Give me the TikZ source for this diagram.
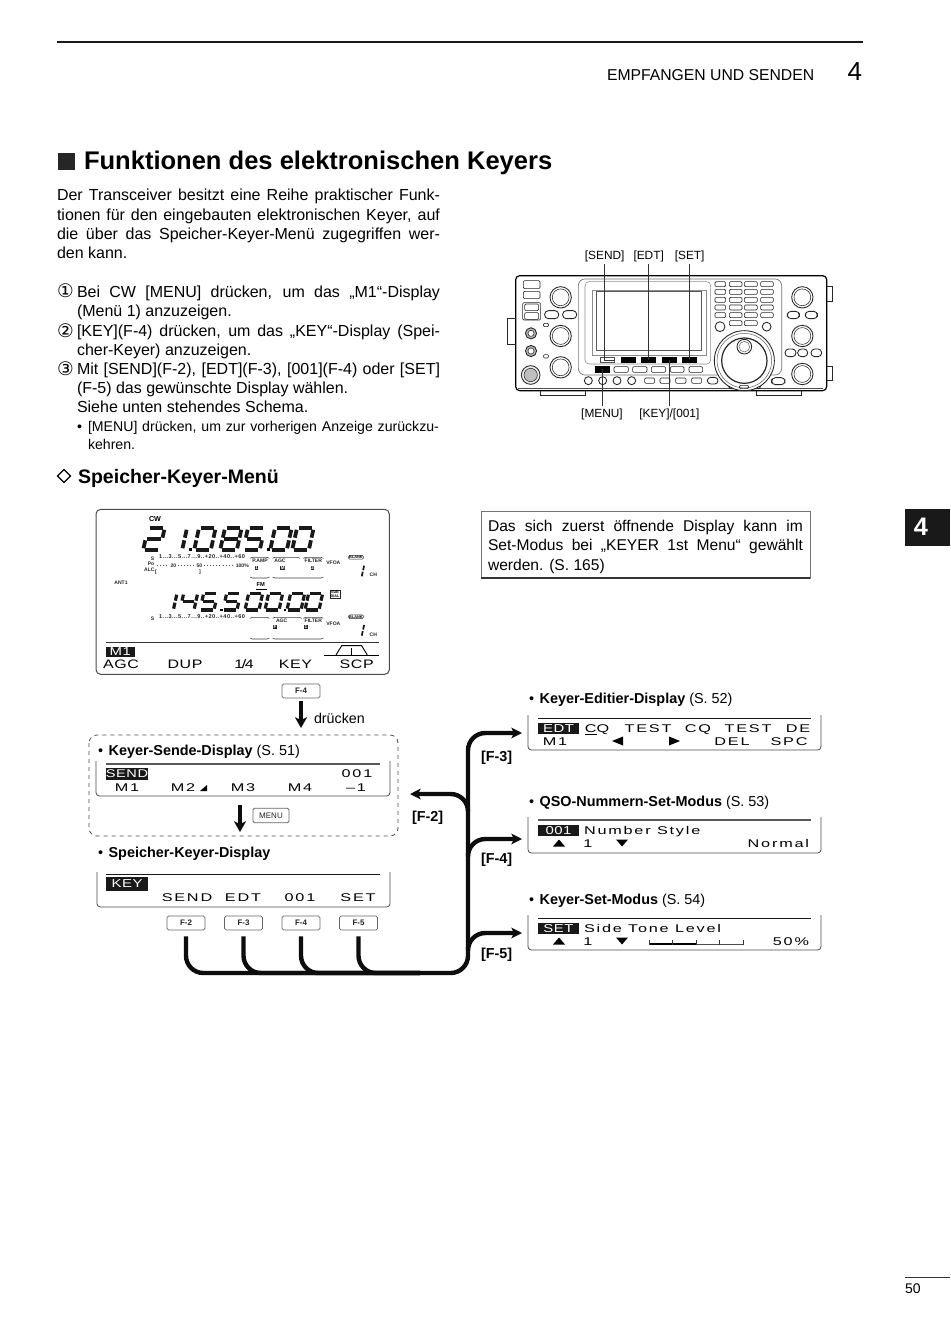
\documentclass[tikz,border=0pt]{standalone}
\usepackage{fontspec}
\setmainfont{Liberation Sans}
\newfontfamily\lcdf[FakeStretch=1.45,LetterSpace=16]{Liberation Sans}
\newfontfamily\lcdinv[FakeStretch=1.3,LetterSpace=5]{Liberation Sans}
\newfontfamily\mf[LetterSpace=8]{Liberation Sans}
\newfontfamily\symf{DejaVu Sans}
\usetikzlibrary{arrows.meta,calc}
\newcount\txc
\newcommand{\tx}[4][]{\global\advance\txc by 1\node[tt,#1] (tx\the\txc) at (#2,#3) {#4};}
\newcommand{\bodyf}{\fontsize{12}{14}\selectfont}
\newcommand{\notef}{\fontsize{11.7}{14}\selectfont}
\newcommand{\hdf}{\fontsize{10.8}{13}\selectfont}
\newcommand{\lf}{\lcdf\fontsize{8.4}{10}\selectfont}
\newcommand{\lfi}{\lcdinv\fontsize{8.6}{10}\selectfont}
\newcommand{\lfm}{\lcdinv\fontsize{9.2}{10}\selectfont}
\newcommand{\mtf}{\mf\bfseries\fontsize{4.2}{5}\selectfont}
\newcommand{\jl}[2][287.25pt]{\makebox[#1][s]{#2}}
\newcommand{\blt}{\textbullet\hspace{4.2pt}}
\newcommand{\rb}[4]{\draw[rbtn] (#1,#2) rectangle (#3,#4);}
\newcommand{\sega}{\draw[seg] (0.1*\dw,0)--(0.9*\dw,0);}
\newcommand{\segb}{\draw[seg] (\dw,0.08*\dh)--(\dw,0.44*\dh);}
\newcommand{\segc}{\draw[seg] (\dw,0.56*\dh)--(\dw,0.92*\dh);}
\newcommand{\segd}{\draw[seg] (0.1*\dw,\dh)--(0.9*\dw,\dh);}
\newcommand{\sege}{\draw[seg] (0,0.56*\dh)--(0,0.92*\dh);}
\newcommand{\segf}{\draw[seg] (0,0.08*\dh)--(0,0.44*\dh);}
\newcommand{\segg}{\draw[seg] (0.1*\dw,0.5*\dh)--(0.9*\dw,0.5*\dh);}
\expandafter\def\csname lcdd0\endcsname{\sega\segb\segc\segd\sege\segf}
\expandafter\def\csname lcdd1\endcsname{\segb\segc}
\expandafter\def\csname lcdd2\endcsname{\sega\segb\segg\sege\segd}
\expandafter\def\csname lcdd4\endcsname{\segf\segg\segb\segc}
\expandafter\def\csname lcdd5\endcsname{\sega\segf\segg\segc\segd}
\expandafter\def\csname lcdd8\endcsname{\sega\segb\segc\segd\sege\segf\segg}
\newcommand{\lcdDigit}[3]{\begin{scope}[shift={(#1,#2)},xslant=0.22]\csname lcdd#3\endcsname\end{scope}}
\tikzset{
 tt/.style={inner sep=0pt,outer sep=0pt,anchor=base west,text depth=0pt},
 ctr/.style={anchor=base,inner sep=0pt},
 rgt/.style={anchor=base east,inner sep=0pt},
 seg/.style={line width=2.8pt,line cap=butt,black!90},
 rbtn/.style={draw=black!85,line width=0.45pt,rounded corners=0.9pt},
 rknob/.style={draw=black!85,line width=0.65pt},
 rkey/.style={fill=black,draw=black,minimum width=10.5pt,minimum height=4pt,inner sep=0pt},
 rlab/.style={font=\fontsize{8.9}{10}\selectfont,inner sep=0pt},
 rline/.style={draw=black!80,line width=0.55pt},
 fbtn/.style={draw=black!60,line width=0.6pt,rounded corners=1.2pt,minimum width=28.5pt,minimum height=10.5pt,inner sep=0pt,font=\bfseries\fontsize{6}{7}\selectfont,text=black!85,fill=white},
 bus/.style={line width=3.3pt,black!95,rounded corners=13pt},
 busarrow/.style={bus,-{Stealth[length=8pt,width=8pt,inset=2pt]}},
 downarrow/.style={line width=3pt,black!95,-{Stealth[length=8pt,width=9pt,inset=2pt]}},
 disp/.style={draw=black!70,line width=0.6pt,rounded corners=2.5pt},
 topl/.style={draw=black!65,line width=0.9pt},
 inv/.style={fill=black!90,inner sep=0pt},
 mt/.style={inner sep=0pt,font=\mtf,text=black!85},
 lab/.style={inner sep=0pt,font=\bfseries\fontsize{3.8}{4}\selectfont,text=black!85},
 icon/.style={fill=black!85,text=white,inner sep=0.4pt,font=\bfseries\fontsize{3.4}{4}\selectfont},
 brk/.style={draw=black!75,line width=0.45pt,rounded corners=1pt},
}
\begin{document}
\begin{tikzpicture}[x=0.75pt,y=-0.75pt]
\useasboundingbox[fill=white] (0,0) rectangle (950,1344);
% ---------- header
\draw[line width=1.6pt,black!90] (57,42) -- (863,42);
\tx{607}{80.7}{\fontsize{11.8}{14}\selectfont EMPFANGEN UND SENDEN}
\tx[rgt]{862}{81}{\fontsize{19.5}{22}\selectfont 4}
\fill[black!85] (58,153) rectangle (75,170);
\tx{84}{170}{\bfseries\fontsize{19.15}{24}\selectfont Funktionen des elektronischen Keyers}
% ---------- intro
\tx{57}{200.7}{\bodyf\jl{Der Transceiver besitzt eine Reihe praktischer Funk-}}
\tx{57}{220.2}{\bodyf\jl{tionen für den eingebauten elektronischen Keyer, auf}}
\tx{57}{239.7}{\bodyf\jl{die über das Speicher-Keyer-Menü zugegriffen wer-}}
\tx{57}{258.7}{\bodyf den kann.}
\tx{57}{298}{\symf\fontsize{14}{14}\selectfont ①}
\tx{77}{297.7}{\bodyf\jl[272.25pt]{Bei CW [MENU] drücken, um das „M1“-Display}}
\tx{77}{316.7}{\bodyf(Menü 1) anzuzeigen.}
\tx{57}{337}{\symf\fontsize{14}{14}\selectfont ②}
\tx{77}{336.7}{\bodyf\jl[272.25pt]{[KEY](F-4) drücken, um das „KEY“-Display (Spei-}}
\tx{77}{355.7}{\bodyf cher-Keyer) anzuzeigen.}
\tx{57}{375}{\symf\fontsize{14}{14}\selectfont ③}
\tx{77}{374.7}{\bodyf\jl[272.25pt]{Mit [SEND](F-2), [EDT](F-3), [001](F-4) oder [SET]}}
\tx{77}{393.7}{\bodyf(F-5) das gewünschte Display wählen.}
\tx{77}{412.7}{\bodyf Siehe unten stehendes Schema.}
\tx{77}{431}{\fontsize{10.6}{12}\selectfont •}
\tx{88}{431}{\fontsize{10.6}{12}\selectfont\jl[263.25pt]{[MENU] drücken, um zur vorherigen Anzeige zurückzu-}}
\tx{88}{449}{\fontsize{10.6}{12}\selectfont kehren.}
\draw[black,line width=1pt] (64,469.5) -- (70.5,476) -- (64,482.5) -- (57.5,476) -- cycle;
\tx{78}{483}{\bfseries\fontsize{14.65}{17}\selectfont Speicher-Keyer-Menü}
% ---------- tab & page number
\fill[black!90] (905,509) rectangle (950,546);
\tx[ctr,text=white]{921}{535}{\bfseries\fontsize{19}{22}\selectfont 4}
\draw[black!80,line width=0.6pt] (905,1277) -- (950,1277);
\tx{905}{1293}{\fontsize{10.5}{12}\selectfont 50}
% ---------- note box
\draw[black!55,line width=0.6pt] (481,511) rectangle (810,578);
\draw[black!80,line width=1pt] (481,578) -- (810,578);
\tx{488}{531}{\notef\jl[236.25pt]{Das sich zuerst öffnende Display kann im}}
\tx{488}{550.5}{\notef\jl[236.25pt]{Set-Modus bei „KEYER 1st Menu“ gewählt}}
\tx{488}{570.5}{\notef werden. (S. 165)}
% ---------- radio (crop coordinates: 1 unit = 1/3 px)
\begin{scope}[shift={(500,240)},x=0.25pt,y=-0.25pt]
\draw[black,line width=0.9pt,rounded corners=3pt] (47,107) rectangle (980,452);
\draw[black!70,line width=0.4pt] (55,445) -- (970,445);
\draw[rknob] (47,235) -- (22,235) -- (22,312) -- (47,312);
\draw[rknob] (980,140) -- (997,140) -- (997,183) -- (980,183);
\draw[rknob] (980,378) -- (997,378) -- (997,422) -- (980,422);
\draw[rknob] (122,452) -- (122,466) -- (257,466) -- (257,452);
\draw[rknob] (770,452) -- (770,466) -- (905,466) -- (905,452);
\rb{70}{122}{120}{146}\rb{70}{154}{120}{176}\rb{68}{188}{122}{240}\rb{74}{192}{116}{212}\rb{74}{218}{116}{238}
\foreach \x/\y in {182/172,182/288,182/382,907/172,907/288,907/402}{\draw[rknob] (\x,\y) circle[radius=8pt];\draw[rknob,line width=0.4pt] (\x,\y) circle[radius=6.3pt];}
\foreach \a/\b/\c/\d in {134/212/176/236,188/212/230/236,862/214/898/236,916/214/952/236,855/327/888/350,893/327/923/350,933/327/965/350,815/413/855/434}{\draw[rknob,rounded corners=2.8pt] (\a,\b) rectangle (\c,\d);}
\rb{130}{250}{146}{260}\rb{130}{344}{146}{354}
\foreach \y in {280,333}{\draw[rknob,fill=black!30] (93,\y) circle[radius=4.2pt];\draw[rknob,fill=white,line width=0.4pt] (93,\y) circle[radius=2.3pt];}
\draw[rknob,fill=black!8] (92,405) circle[radius=7pt];\draw[rknob,fill=black!25,line width=0.4pt] (92,405) circle[radius=5pt];
\draw[draw=black!55,line width=0.5pt,rounded corners=5pt] (235,117) rectangle (845,405);
\draw[black!45,line width=0.4pt,rounded corners=3pt] (255,125) rectangle (632,372);
\draw[black!45,line width=0.4pt] (278,150) rectangle (618,345);
\draw[black!65,line width=0.5pt] (290,155) rectangle (605,330);
\foreach \y in {125,148,172,195,218}{\foreach \a/\b in {645/677,688/726,733/772,782/820}{\rb{\a}{\y}{\b}{\y+15}}}
\rb{688}{242}{726}{257}\rb{733}{242}{772}{257}
\draw[rknob] (660,260) circle[radius=3.7pt];\draw[rknob] (800,260) circle[radius=3.3pt];
\node[rkey,fill=white,draw=black!70] (bSend) at (322,360) {};
\node[rkey] (bEdt0) at (386,360) {};
\node[rkey] (bEdt) at (446,360) {};
\node[rkey] (bKey) at (508,360) {};
\node[rkey] (bSet) at (569,360) {};
\node[rkey] (bMenu) at (306,388) {};
\foreach \a/\b in {342/385,398/441,454/497,511/552,567/608}{\rb{\a}{380}{\b}{397}}
\foreach \x in {265,308,351,395}{\draw[rknob] (\x,422) circle[radius=3pt];}
\foreach \a/\b in {434/464,480/510,527/558,575/605}{\rb{\a}{414}{\b}{430}}
\draw[rknob,rounded corners=2.5pt] (622,412) rectangle (654,432);
\draw[rknob,fill=white] (680,430) -- (690,446) -- (778,446) -- (786,430);
\draw[rknob,fill=white] (733,362) circle[radius=22.5pt];
\draw[black!60,line width=0.4pt] (733,362) circle[radius=20.5pt];
\draw[rknob,line width=0.9pt] (733,362) circle[radius=17pt];
\draw[rknob,fill=white] (733,320) circle[radius=5.5pt];\draw[black!60,line width=0.4pt] (733,320) circle[radius=4pt];
\rb{718}{436}{746}{446}
\node[rlab,anchor=base] (lSend) at (314,60) {[SEND]};
\node[rlab,anchor=base] (lEdt) at (446,60) {[EDT]};
\node[rlab,anchor=base] (lSet) at (569,60) {[SET]};
\node[rlab,anchor=base] (lMenu) at (306,533) {[MENU]};
\node[rlab,anchor=base] (lKey) at (508,533) {[KEY]/[001]};
\draw[rline] (lSend.south) ++(0,-1pt) -- (lSend.south |- bSend.center) -- (bSend.east);
\draw[rline] ([yshift=-1pt]lEdt.south) -- (bEdt.center);
\draw[rline] ([yshift=-1pt]lSet.south) -- (bSet.center);
\draw[rline] ([yshift=2pt]lMenu.north) -- (bMenu.center);
\draw[rline] ([yshift=2pt]lKey.north) -- (bKey.center);
\end{scope}
% ---------- main LCD
\begin{scope}[shift={(90,500)},x=0.25pt,y=-0.25pt]
\draw[black!70,line width=0.75pt,rounded corners=3.5pt] (18,28) rectangle (898,523);
\node[inner sep=0pt,font=\bfseries\fontsize{5.4}{6}\selectfont] (lcdCw) at (195,57) {CW};
\def\dw{50}\def\dh{66}
\lcdDigit{174}{84}{2}
\lcdDigit{241}{84}{1}
\lcdDigit{327}{84}{0}
\lcdDigit{405}{84}{8}
\lcdDigit{474}{84}{5}
\lcdDigit{555}{84}{0}
\lcdDigit{621}{84}{0}
\fill (296,144) rectangle (306,154);
\fill (530,144) rectangle (540,154);
\tikzset{seg/.style={line width=2.4pt,line cap=butt,black!90}}
\def\dw{42}\def\dh{50}
\lcdDigit{219}{280}{1}
\lcdDigit{281}{280}{4}
\lcdDigit{341}{280}{5}
\lcdDigit{410}{280}{5}
\lcdDigit{476}{280}{0}
\lcdDigit{536}{280}{0}
\lcdDigit{602}{280}{0}
\lcdDigit{656}{280}{0}
\fill (390,326) rectangle (398,334);
\fill (581,326) rectangle (589,334);
\tikzset{seg/.style={line width=1.3pt,line cap=butt,black!90}}
\def\dw{1}\def\dh{38}
\lcdDigit{822}{194}{1}
\lcdDigit{822}{372}{1}
\node[mt] (m1) at (336,171) {1...3...5...7...9..+20..+40..+60};
\node[lab] (m2) at (188,175) {S};
\node[lab] (m3) at (183,191) {Po};
\node[lab] (m5) at (178,209) {ALC};
\node[lab] (m4a) at (250,197) {20};
\node[lab] (m4b) at (328,197) {50};
\node[lab] (m4c) at (457,197) {100\%};
\draw[black!70,line width=0.35pt,dotted] (200,197) -- ([xshift=-1pt]m4a.west);
\draw[black!70,line width=0.35pt,dotted] ([xshift=1pt]m4a.east) -- ([xshift=-1pt]m4b.west);
\draw[black!70,line width=0.35pt,dotted] ([xshift=1pt]m4b.east) -- ([xshift=-1pt]m4c.west);
\node[lab] (m5b) at (198,216) {[};
\node[lab] (m6) at (330,217) {]};
\node[mt] (m7) at (336,350) {1...3...5...7...9..+20..+40..+60};
\node[lab] (m8) at (188,355) {S};
\foreach \n/\t/\x/\y in {a1/P.AMP/510/182,a2/AGC/570/182,a3/FILTER/670/182,a4/VFOA/730/189,a5/CH/850/224,b2/AGC/575/362,b3/FILTER/670/362,b4/VFOA/730/370,b5/CH/850/404,b6/ANT1/93/248}{\node[lab] (\n) at (\x,\y) {\t};}
\foreach \n/\t/\x/\y in {i1/1/500/203,i2/M/578/203,i3/2/668/203,i4/F/555/380,i5/1/648/380}{\node[icon] (\n) at (\x,\y) {\t};}
\foreach \n/\y in {k1/172,k2/350}{\node[draw=black!85,line width=0.35pt,rounded corners=0.8pt,inner sep=0.4pt,font=\bfseries\fontsize{2.9}{3}\selectfont] (\n) at (798,\y) {BLANK};}
\node[draw=black!85,line width=0.35pt,inner sep=0.5pt,align=center,font=\bfseries\fontsize{2.8}{3.1}\selectfont] (k3) at (735,283) {SUB\\DIAL};
\node[inner sep=0pt,font=\bfseries\fontsize{4.3}{5}\selectfont] (fm) at (512,255) {FM};
\draw[black,line width=0.7pt] (498,267) -- (530,267);
\foreach \a/\b/\y/\s in {480/538/172/1,548/630/172/1,640/700/172/1,480/538/234/-1,548/700/234/-1,480/538/352/1,548/635/352/1,640/700/352/1,480/538/417/-1,548/700/417/-1}{\draw[brk] (\a,\y+\s*3) -- (\a+3,\y) -- (\b-3,\y) -- (\b,\y+\s*3);}
\draw[black!80,line width=0.9pt] (48,427) -- (868,427);
\node[fill=black!90,minimum width=21.5pt,minimum height=7.5pt,inner sep=0pt] (m1box) at (91,455) {};
\node[text=white,font=\lfi,inner sep=0pt] (m1t) at (91,455) {M1};
\foreach \n/\t/\x in {s1/AGC/93,s2/DUP/285,s3/1\kern-1pt{/}\kern-1pt4/462,s4/KEY/616,s5/SCP/800}{\node[ctr,font=\lfm] (\n) at (\x,505) {\t};}
\draw[black,line width=0.5pt] (703,465) -- (868,465);
\draw[black,line width=0.7pt] (738,465) -- (755,437) -- (815,437) -- (832,465);
\draw[black,line width=0.5pt] (785,443) -- (785,465);
\end{scope}
% ---------- F-4 / drücken
\node[fbtn] (fTop) at (301,691) {F-4};
\coordinate (d1) at (301,728);
\draw[downarrow] ([yshift=-2pt]fTop.south) -- (d1);
\tx{314}{723}{\fontsize{10.7}{13}\selectfont drücken}
% ---------- dashed
\draw[black!70,dashed,line width=0.6pt,rounded corners=6pt] (89,735) rectangle (398,836);
\tx{98}{755}{\hdf\blt\textbf{Keyer-Sende-Display} (S. 51)}
% send display
\draw[disp] (96,761) -- (96,796) -- (390,796) -- (390,761);
\draw[topl] (106,764) -- (380,764);
\node[inv,minimum width=31.5pt,minimum height=9.3pt] (sendBox) at (127,774) {};
\node[text=white,font=\lcdinv\fontsize{8.4}{10}\selectfont,inner sep=0pt] (sendT) at (127,774) {SEND};
\foreach \n/\t/\x/\y in {a1/001/357/777,a2/M1/127/791,a3/M2/183/791,a4/M3/243/791,a5/M4/300/791,a6/–1/356/791}{\node[ctr,font=\lf] (c\n) at (\x,\y) {\t};}
\fill (200,791) -- (207,791) -- (207,785) -- cycle;
% menu
\node[fbtn,minimum width=27pt,minimum height=11pt,font=\fontsize{6}{7}\selectfont] (fMenu) at (271,815.5) {MENU};
\coordinate (d2) at (240,832);
\draw[downarrow] (240,805) -- (d2);
\tx{98}{857}{\hdf\blt\textbf{Speicher-Keyer-Display}}
% key display
\draw[disp] (97,872) -- (97,907) -- (390,907) -- (390,872);
\draw[topl,line width=0.7pt,black!90] (106,874) -- (380,874);
\node[inv,minimum width=31.5pt,minimum height=10.5pt] (keyBox) at (127,884) {};
\node[text=white,font=\lfi,inner sep=0pt] (keyT) at (127,884) {KEY};
\foreach \n/\t/\x in {a1/SEND/187,a2/EDT/243,a3/001/300,a4/SET/358}{\node[ctr,font=\lf] (k\n) at (\x,901) {\t};}
% F buttons
\node[fbtn] (f2) at (186,923) {F-2};
\node[fbtn] (f3) at (243.5,923) {F-3};
\node[fbtn] (f4) at (301,923) {F-4};
\node[fbtn] (f5) at (358.5,923) {F-5};
% bus
\coordinate (busE) at (468,973);
\coordinate (busM) at (420,973);
\coordinate (trTop) at (468,733);
\coordinate (tipE) at (522,733);
\coordinate (j4) at (468,839);
\coordinate (tipQ) at (522,839);
\coordinate (j5) at (468,933);
\coordinate (tipS) at (522,933);
\coordinate (j2) at (468,794);
\coordinate (tipD) at (410,794);
\draw[busarrow] ([yshift=-4.5pt]f2.south) |- (busE) -- (trTop) -- (tipE);
\draw[bus] ([yshift=-4.5pt]f3.south) |- (busM);
\draw[bus] ([yshift=-4.5pt]f4.south) |- (busM);
\draw[bus] ([yshift=-4.5pt]f5.south) |- (busM);
\draw[busarrow] ($(j4)+(0,14)$) |- (tipQ);
\draw[busarrow] ($(j5)+(0,14)$) |- (tipS);
\draw[busarrow] ($(j2)+(0,16)$) |- (tipD);
\tx{412}{821}{\bfseries\hdf [F-2]}
\tx{481}{761}{\bfseries\hdf [F-3]}
\tx{481}{863}{\bfseries\hdf [F-4]}
\tx{481}{958}{\bfseries\hdf [F-5]}
% ---------- right displays
\tx{529}{703}{\hdf\blt\textbf{Keyer-Editier-Display} (S. 52)}
\tx{529}{806}{\hdf\blt\textbf{QSO-Nummern-Set-Modus} (S. 53)}
\tx{529}{904}{\hdf\blt\textbf{Keyer-Set-Modus} (S. 54)}
\draw[disp] (528,715) -- (528,750) -- (821,750) -- (821,715);
\draw[topl,line width=0.7pt,black!90] (538,718) -- (811,718);
\node[inv,minimum width=31pt,minimum height=8.6pt] (edtBox) at (558.5,728.5) {};
\node[text=white,font=\lfi,inner sep=0pt] (edtT) at (558.5,728.5) {EDT};
\foreach \n/\t/\x in {a1/\underline{C}Q/597,a2/TEST/648,a3/CQ/698,a4/TEST/748,a5/DE/798}{\node[ctr,font=\lf] (e\n) at (\x,732) {\t};}
\foreach \n/\t/\x in {b1/M1/555,b2/DEL/732,b3/SPC/789}{\node[ctr,font=\lf] (e\n) at (\x,745) {\t};}
\fill (612,741) -- (623,736.5) -- (623,745.5) -- cycle;
\fill (680,741) -- (669,736.5) -- (669,745.5) -- cycle;
\draw[disp] (528,817) -- (528,853) -- (821,853) -- (821,817);
\draw[topl] (538,820) -- (811,820);
\node[inv,minimum width=31pt,minimum height=8.6pt] (qBox) at (558.5,830.5) {};
\node[text=white,font=\lfi,inner sep=0pt] (qT) at (558.5,830.5) {001};
\tx{584}{834}{\lf Number Style}
\tx[ctr]{588}{847}{\lf 1}
\tx[rgt]{809}{847}{\lf Normal}
\fill (553,846.5) -- (565,846.5) -- (559,839.5) -- cycle;
\fill (616,839.5) -- (628,839.5) -- (622,846.5) -- cycle;
\draw[disp] (528,915) -- (528,950) -- (821,950) -- (821,915);
\draw[topl,line width=0.7pt,black!90] (538,918) -- (811,918);
\node[inv,minimum width=31pt,minimum height=8.6pt] (sBox) at (558.5,928.5) {};
\node[text=white,font=\lfi,inner sep=0pt] (sT) at (558.5,928.5) {SET};
\tx{584}{932}{\lf Side Tone Level}
\tx[ctr]{588}{945}{\lf 1}
\tx[rgt]{809}{945}{\lf 50\%}
\fill (553,944.5) -- (565,944.5) -- (559,937.5) -- cycle;
\fill (616,937.5) -- (628,937.5) -- (622,944.5) -- cycle;
\draw[black,line width=1.2pt] (649,944) -- (696,944);
\draw[black!70,line width=0.4pt] (696,944.5) -- (743,944.5);
\foreach \x in {649,672,696,719,743}{\draw[black!80,line width=0.4pt] (\x,940) -- (\x,945);}
\end{tikzpicture}
\end{document}
